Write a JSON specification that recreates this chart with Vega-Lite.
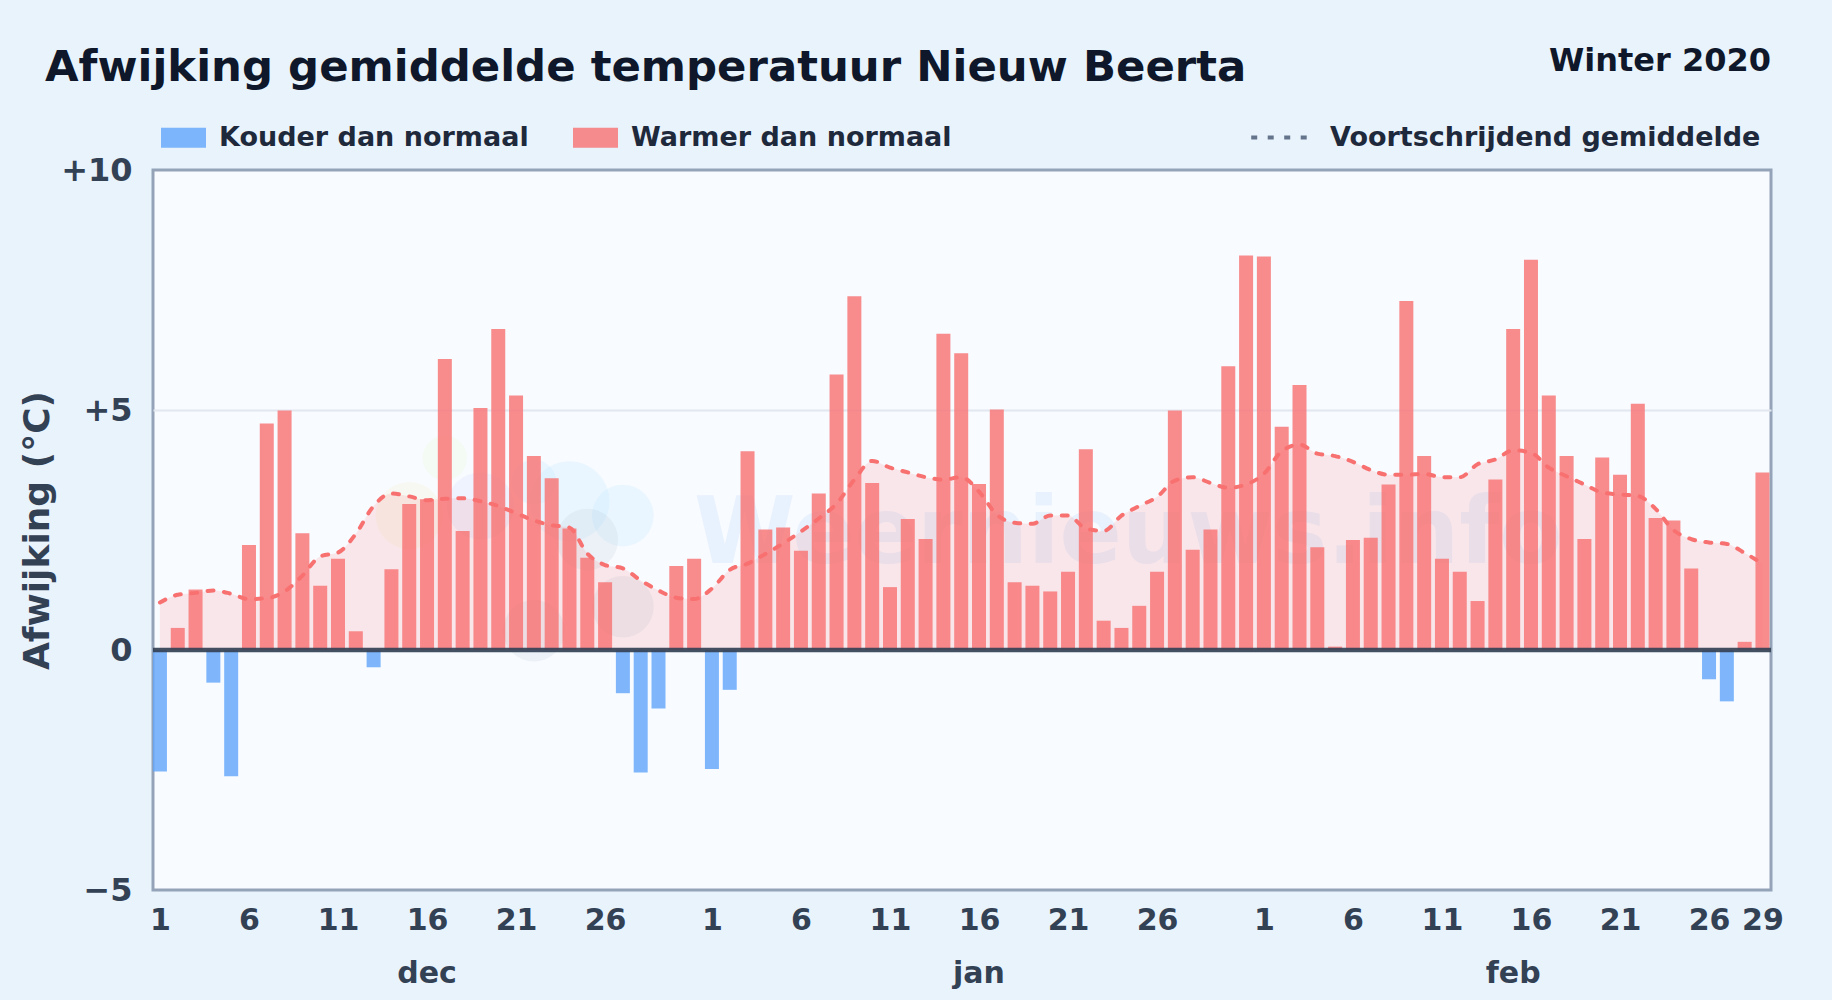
{"$schema":"https://vega.github.io/schema/vega-lite/v6.json","width":1618,"height":720,"autosize":{"type":"none"},"padding":{"left":153,"top":170,"right":61,"bottom":110},"background":"#e9f3fc","view":{"fill":"#f8fbff","stroke":"#94a3b8","strokeWidth":3},
"title":{"text":"Afwijking gemiddelde temperatuur Nieuw Beerta","anchor":"start","frame":"group","dx":-108,"offset":-45,"fontSize":43.4,"font":"DejaVu Sans","fontWeight":"bold","color":"#0f172a"},
"datasets":{"temp":[
{"date":"2019-12-01","afwijking":-2.53,"gemiddelde":0.99,"categorie":"Kouder dan normaal"},
{"date":"2019-12-02","afwijking":0.46,"gemiddelde":1.15,"categorie":"Warmer dan normaal"},
{"date":"2019-12-03","afwijking":1.26,"gemiddelde":1.19,"categorie":"Warmer dan normaal"},
{"date":"2019-12-04","afwijking":-0.68,"gemiddelde":1.24,"categorie":"Kouder dan normaal"},
{"date":"2019-12-05","afwijking":-2.63,"gemiddelde":1.17,"categorie":"Kouder dan normaal"},
{"date":"2019-12-06","afwijking":2.19,"gemiddelde":1.06,"categorie":"Warmer dan normaal"},
{"date":"2019-12-07","afwijking":4.72,"gemiddelde":1.08,"categorie":"Warmer dan normaal"},
{"date":"2019-12-08","afwijking":4.99,"gemiddelde":1.22,"categorie":"Warmer dan normaal"},
{"date":"2019-12-09","afwijking":2.43,"gemiddelde":1.55,"categorie":"Warmer dan normaal"},
{"date":"2019-12-10","afwijking":1.34,"gemiddelde":1.95,"categorie":"Warmer dan normaal"},
{"date":"2019-12-11","afwijking":1.9,"gemiddelde":2.03,"categorie":"Warmer dan normaal"},
{"date":"2019-12-12","afwijking":0.39,"gemiddelde":2.42,"categorie":"Warmer dan normaal"},
{"date":"2019-12-13","afwijking":-0.36,"gemiddelde":3.0,"categorie":"Kouder dan normaal"},
{"date":"2019-12-14","afwijking":1.68,"gemiddelde":3.26,"categorie":"Warmer dan normaal"},
{"date":"2019-12-15","afwijking":3.04,"gemiddelde":3.2,"categorie":"Warmer dan normaal"},
{"date":"2019-12-16","afwijking":3.14,"gemiddelde":3.12,"categorie":"Warmer dan normaal"},
{"date":"2019-12-17","afwijking":6.06,"gemiddelde":3.15,"categorie":"Warmer dan normaal"},
{"date":"2019-12-18","afwijking":2.48,"gemiddelde":3.16,"categorie":"Warmer dan normaal"},
{"date":"2019-12-19","afwijking":5.04,"gemiddelde":3.1,"categorie":"Warmer dan normaal"},
{"date":"2019-12-20","afwijking":6.69,"gemiddelde":3.0,"categorie":"Warmer dan normaal"},
{"date":"2019-12-21","afwijking":5.3,"gemiddelde":2.85,"categorie":"Warmer dan normaal"},
{"date":"2019-12-22","afwijking":4.04,"gemiddelde":2.7,"categorie":"Warmer dan normaal"},
{"date":"2019-12-23","afwijking":3.58,"gemiddelde":2.6,"categorie":"Warmer dan normaal"},
{"date":"2019-12-24","afwijking":2.53,"gemiddelde":2.55,"categorie":"Warmer dan normaal"},
{"date":"2019-12-25","afwijking":1.92,"gemiddelde":2.01,"categorie":"Warmer dan normaal"},
{"date":"2019-12-26","afwijking":1.41,"gemiddelde":1.77,"categorie":"Warmer dan normaal"},
{"date":"2019-12-27","afwijking":-0.9,"gemiddelde":1.7,"categorie":"Kouder dan normaal"},
{"date":"2019-12-28","afwijking":-2.55,"gemiddelde":1.45,"categorie":"Kouder dan normaal"},
{"date":"2019-12-29","afwijking":-1.22,"gemiddelde":1.24,"categorie":"Kouder dan normaal"},
{"date":"2019-12-30","afwijking":1.75,"gemiddelde":1.09,"categorie":"Warmer dan normaal"},
{"date":"2019-12-31","afwijking":1.9,"gemiddelde":1.06,"categorie":"Warmer dan normaal"},
{"date":"2020-01-01","afwijking":-2.48,"gemiddelde":1.28,"categorie":"Kouder dan normaal"},
{"date":"2020-01-02","afwijking":-0.83,"gemiddelde":1.67,"categorie":"Kouder dan normaal"},
{"date":"2020-01-03","afwijking":4.14,"gemiddelde":1.8,"categorie":"Warmer dan normaal"},
{"date":"2020-01-04","afwijking":2.51,"gemiddelde":2.0,"categorie":"Warmer dan normaal"},
{"date":"2020-01-05","afwijking":2.55,"gemiddelde":2.22,"categorie":"Warmer dan normaal"},
{"date":"2020-01-06","afwijking":2.07,"gemiddelde":2.47,"categorie":"Warmer dan normaal"},
{"date":"2020-01-07","afwijking":3.26,"gemiddelde":2.74,"categorie":"Warmer dan normaal"},
{"date":"2020-01-08","afwijking":5.74,"gemiddelde":3.05,"categorie":"Warmer dan normaal"},
{"date":"2020-01-09","afwijking":7.37,"gemiddelde":3.55,"categorie":"Warmer dan normaal"},
{"date":"2020-01-10","afwijking":3.48,"gemiddelde":3.94,"categorie":"Warmer dan normaal"},
{"date":"2020-01-11","afwijking":1.31,"gemiddelde":3.8,"categorie":"Warmer dan normaal"},
{"date":"2020-01-12","afwijking":2.73,"gemiddelde":3.7,"categorie":"Warmer dan normaal"},
{"date":"2020-01-13","afwijking":2.31,"gemiddelde":3.6,"categorie":"Warmer dan normaal"},
{"date":"2020-01-14","afwijking":6.59,"gemiddelde":3.55,"categorie":"Warmer dan normaal"},
{"date":"2020-01-15","afwijking":6.18,"gemiddelde":3.6,"categorie":"Warmer dan normaal"},
{"date":"2020-01-16","afwijking":3.46,"gemiddelde":3.3,"categorie":"Warmer dan normaal"},
{"date":"2020-01-17","afwijking":5.01,"gemiddelde":2.82,"categorie":"Warmer dan normaal"},
{"date":"2020-01-18","afwijking":1.41,"gemiddelde":2.65,"categorie":"Warmer dan normaal"},
{"date":"2020-01-19","afwijking":1.34,"gemiddelde":2.63,"categorie":"Warmer dan normaal"},
{"date":"2020-01-20","afwijking":1.22,"gemiddelde":2.8,"categorie":"Warmer dan normaal"},
{"date":"2020-01-21","afwijking":1.63,"gemiddelde":2.8,"categorie":"Warmer dan normaal"},
{"date":"2020-01-22","afwijking":4.18,"gemiddelde":2.53,"categorie":"Warmer dan normaal"},
{"date":"2020-01-23","afwijking":0.61,"gemiddelde":2.48,"categorie":"Warmer dan normaal"},
{"date":"2020-01-24","afwijking":0.46,"gemiddelde":2.8,"categorie":"Warmer dan normaal"},
{"date":"2020-01-25","afwijking":0.92,"gemiddelde":3.0,"categorie":"Warmer dan normaal"},
{"date":"2020-01-26","afwijking":1.63,"gemiddelde":3.19,"categorie":"Warmer dan normaal"},
{"date":"2020-01-27","afwijking":4.99,"gemiddelde":3.53,"categorie":"Warmer dan normaal"},
{"date":"2020-01-28","afwijking":2.09,"gemiddelde":3.6,"categorie":"Warmer dan normaal"},
{"date":"2020-01-29","afwijking":2.51,"gemiddelde":3.48,"categorie":"Warmer dan normaal"},
{"date":"2020-01-30","afwijking":5.91,"gemiddelde":3.38,"categorie":"Warmer dan normaal"},
{"date":"2020-01-31","afwijking":8.22,"gemiddelde":3.45,"categorie":"Warmer dan normaal"},
{"date":"2020-02-01","afwijking":8.2,"gemiddelde":3.67,"categorie":"Warmer dan normaal"},
{"date":"2020-02-02","afwijking":4.65,"gemiddelde":4.14,"categorie":"Warmer dan normaal"},
{"date":"2020-02-03","afwijking":5.52,"gemiddelde":4.28,"categorie":"Warmer dan normaal"},
{"date":"2020-02-04","afwijking":2.14,"gemiddelde":4.09,"categorie":"Warmer dan normaal"},
{"date":"2020-02-05","afwijking":0.07,"gemiddelde":4.04,"categorie":"Warmer dan normaal"},
{"date":"2020-02-06","afwijking":2.29,"gemiddelde":3.92,"categorie":"Warmer dan normaal"},
{"date":"2020-02-07","afwijking":2.34,"gemiddelde":3.75,"categorie":"Warmer dan normaal"},
{"date":"2020-02-08","afwijking":3.45,"gemiddelde":3.65,"categorie":"Warmer dan normaal"},
{"date":"2020-02-09","afwijking":7.27,"gemiddelde":3.65,"categorie":"Warmer dan normaal"},
{"date":"2020-02-10","afwijking":4.04,"gemiddelde":3.67,"categorie":"Warmer dan normaal"},
{"date":"2020-02-11","afwijking":1.9,"gemiddelde":3.6,"categorie":"Warmer dan normaal"},
{"date":"2020-02-12","afwijking":1.63,"gemiddelde":3.6,"categorie":"Warmer dan normaal"},
{"date":"2020-02-13","afwijking":1.02,"gemiddelde":3.87,"categorie":"Warmer dan normaal"},
{"date":"2020-02-14","afwijking":3.55,"gemiddelde":3.97,"categorie":"Warmer dan normaal"},
{"date":"2020-02-15","afwijking":6.69,"gemiddelde":4.16,"categorie":"Warmer dan normaal"},
{"date":"2020-02-16","afwijking":8.13,"gemiddelde":4.11,"categorie":"Warmer dan normaal"},
{"date":"2020-02-17","afwijking":5.3,"gemiddelde":3.8,"categorie":"Warmer dan normaal"},
{"date":"2020-02-18","afwijking":4.04,"gemiddelde":3.62,"categorie":"Warmer dan normaal"},
{"date":"2020-02-19","afwijking":2.31,"gemiddelde":3.45,"categorie":"Warmer dan normaal"},
{"date":"2020-02-20","afwijking":4.01,"gemiddelde":3.28,"categorie":"Warmer dan normaal"},
{"date":"2020-02-21","afwijking":3.65,"gemiddelde":3.24,"categorie":"Warmer dan normaal"},
{"date":"2020-02-22","afwijking":5.13,"gemiddelde":3.21,"categorie":"Warmer dan normaal"},
{"date":"2020-02-23","afwijking":2.75,"gemiddelde":2.94,"categorie":"Warmer dan normaal"},
{"date":"2020-02-24","afwijking":2.7,"gemiddelde":2.5,"categorie":"Warmer dan normaal"},
{"date":"2020-02-25","afwijking":1.7,"gemiddelde":2.31,"categorie":"Warmer dan normaal"},
{"date":"2020-02-26","afwijking":-0.61,"gemiddelde":2.24,"categorie":"Kouder dan normaal"},
{"date":"2020-02-27","afwijking":-1.07,"gemiddelde":2.21,"categorie":"Kouder dan normaal"},
{"date":"2020-02-28","afwijking":0.17,"gemiddelde":2.02,"categorie":"Warmer dan normaal"},
{"date":"2020-02-29","afwijking":3.7,"gemiddelde":1.8,"categorie":"Warmer dan normaal"}
]},
"encoding":{"x":{"field":"date","type":"temporal","title":null,"scale":{"type":"utc","nice":false,"padding":0,"domain":["2019-11-30T14:38:00Z","2020-02-29T11:31:00Z"]},"axis":{"values":["2019-12-01","2019-12-06","2019-12-11","2019-12-16","2019-12-21","2019-12-26","2020-01-01","2020-01-06","2020-01-11","2020-01-16","2020-01-21","2020-01-26","2020-02-01","2020-02-06","2020-02-11","2020-02-16","2020-02-21","2020-02-26","2020-02-29"],"labelExpr":"utcFormat(datum.value,'%-d')","grid":false,"domain":false,"ticks":false,"labelFontSize":30,"labelFont":"DejaVu Sans","labelFontWeight":"bold","labelColor":"#334155","labelPadding":15,"labelOverlap":false,"labelFlush":false,"labelBound":false}}},
"layer":[
{"data":{"values":[{"date":"2019-12-24","v":3.1,"c":"#7dd3fc","s":6400},{"date":"2019-12-27","v":2.8,"c":"#7dd3fc","s":3800},{"date":"2019-12-22","v":3.5,"c":"#7dd3fc","s":2000},{"date":"2019-12-19","v":3.0,"c":"#a5b4fc","s":4500},{"date":"2019-12-25","v":2.3,"c":"#94a3b8","s":3800},{"date":"2019-12-27","v":0.9,"c":"#94a3b8","s":3800},{"date":"2019-12-22","v":0.4,"c":"#94a3b8","s":3800},{"date":"2019-12-15","v":2.8,"c":"#fde68a","s":4500},{"date":"2019-12-17","v":4.0,"c":"#d9f99d","s":2000}]},
"mark":{"type":"point","filled":true,"opacity":0.11},"encoding":{"y":{"field":"v","type":"quantitative"},"fill":{"field":"c","type":"nominal","scale":null,"legend":null},"size":{"field":"s","type":"quantitative","scale":null}}},
{"data":{"values":[{"date":"2019-12-31","v":1.81,"label":"Weernieuws.info"}]},"mark":{"type":"text","align":"left","baseline":"alphabetic","font":"DejaVu Sans","fontWeight":"bold","fontSize":92,"color":"#3b82f6","opacity":0.08},"encoding":{"y":{"field":"v","type":"quantitative"},"text":{"field":"label"}}},
{"data":{"name":"temp"},"mark":{"type":"area","interpolate":"monotone","color":"#f87171","opacity":0.15},"encoding":{"y":{"field":"gemiddelde","type":"quantitative"}}},
{"data":{"name":"temp"},"mark":{"type":"line","interpolate":"monotone","color":"#f87171","strokeWidth":4,"strokeCap":"round"},"encoding":{"y":{"field":"gemiddelde","type":"quantitative"},"strokeDash":{"datum":"Voortschrijdend gemiddelde","type":"nominal","scale":{"domain":["Voortschrijdend gemiddelde"],"range":[[6,10.5]]},"legend":{"title":null,"orient":"none","legendX":1096,"legendY":-63,"symbolType":"stroke","symbolSize":3200,"symbolStrokeColor":"#64748b","symbolStrokeWidth":4,"labelFontSize":27,"labelFont":"DejaVu Sans","labelFontWeight":"bold","labelColor":"#1e293b","labelLimit":600,"labelOffset":20,"encode":{"symbols":{"update":{"strokeDash":{"value":[4,13]},"stroke":{"value":"#64748b"},"strokeCap":{"value":"butt"}}}}}}}},
{"data":{"name":"temp"},"mark":{"type":"bar","size":14,"orient":"vertical","opacity":0.8},"encoding":{"y":{"field":"afwijking","type":"quantitative","title":"Afwijking (°C)","scale":{"domain":[-5,10],"nice":false,"zero":false},"axis":{"values":[-5,0,5,10],"labelExpr":"datum.value>0?'+'+datum.value:(datum.value<0?'−'+abs(datum.value):'0')","grid":true,"gridColor":{"condition":{"test":"datum.value==5","value":"#e2e8f0"},"value":"transparent"},"gridWidth":2,"domain":false,"ticks":false,"labelFontSize":32,"labelFont":"DejaVu Sans","labelFontWeight":"bold","labelColor":"#334155","labelPadding":21,"titleFontSize":36,"titleFont":"DejaVu Sans","titleFontWeight":"bold","titleColor":"#334155","titleX":-97,"titleY":360}},"color":{"field":"categorie","type":"nominal","scale":{"domain":["Kouder dan normaal","Warmer dan normaal"],"range":["#60a5fa","#f87171"]},"legend":{"title":null,"orient":"none","legendX":8,"legendY":-55,"direction":"horizontal","symbolType":"M-1,-0.444H1V0.444H-1Z","symbolSize":2025,"symbolOpacity":0.8,"symbolStrokeWidth":0,"labelFontSize":27,"labelFont":"DejaVu Sans","labelFontWeight":"bold","labelColor":"#1e293b","labelLimit":500,"labelOffset":13,"columnPadding":44}}}},
{"data":{"values":[{"nul":0}]},"mark":{"type":"rule","color":"#334155","strokeWidth":4.5,"opacity":0.92},"encoding":{"x":{"value":0},"x2":{"value":1618},"y":{"field":"nul","type":"quantitative"}}},
{"data":{"values":[{"date":"2019-12-16","v":-5,"label":"dec"},{"date":"2020-01-16","v":-5,"label":"jan"},{"date":"2020-02-15","v":-5,"label":"feb"}]},"mark":{"type":"text","align":"center","baseline":"alphabetic","dy":93,"font":"DejaVu Sans","fontWeight":"bold","fontSize":30,"color":"#334155"},"encoding":{"y":{"field":"v","type":"quantitative"},"text":{"field":"label"}}},
{"data":{"values":[{"date":"2020-02-29T11:31:00Z","v":10,"label":"Winter 2020"}]},"mark":{"type":"text","align":"right","baseline":"alphabetic","dy":-99,"font":"DejaVu Sans","fontWeight":"bold","fontSize":32,"color":"#0f172a"},"encoding":{"y":{"field":"v","type":"quantitative"},"text":{"field":"label"}}}
]}
